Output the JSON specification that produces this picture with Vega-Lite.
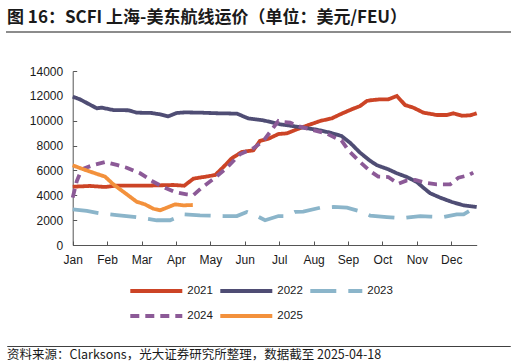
{
 "$schema": "https://vega.github.io/schema/vega-lite/v6.json",
 "padding": {"left": 6, "right": 6, "top": 8, "bottom": 2},
 "background": "white",
 "config": {"view": {"stroke": null}, "font": "Liberation Sans"},
 "spacing": 20,
 "vconcat": [
  {
   "width": 503, "height": 0.01,
   "view": {"stroke": "#8c8c8c", "strokeWidth": 2},
   "title": {"text": "图 16：SCFI 上海-美东航线运价（单位：美元/FEU）", "anchor": "start", "frame": "group", "font": "Noto Sans CJK SC", "fontSize": 17, "fontWeight": "bold", "color": "#1a1a1a", "offset": 5},
   "data": {"values": []},
   "mark": "point",
   "encoding": {}
  },
  {
   "spacing": 80,
   "vconcat": [
    {
     "width": 503, "height": 191,
     "data": {"values": [
      {"year":"2021","month":0,"value":4690},{"year":"2021","month":0.5,"value":4750},{"year":"2021","month":0.94,"value":4670},{"year":"2021","month":1.23,"value":4770},{"year":"2021","month":2.05,"value":4770},{"year":"2021","month":2.92,"value":4830},{"year":"2021","month":3.24,"value":4770},{"year":"2021","month":3.51,"value":5340},{"year":"2021","month":3.8,"value":5470},{"year":"2021","month":4.14,"value":5630},{"year":"2021","month":4.38,"value":6280},{"year":"2021","month":4.62,"value":6970},{"year":"2021","month":4.91,"value":7480},{"year":"2021","month":5.25,"value":7620},{"year":"2021","month":5.44,"value":8370},{"year":"2021","month":5.69,"value":8550},{"year":"2021","month":5.98,"value":8930},{"year":"2021","month":6.22,"value":8980},{"year":"2021","month":6.46,"value":9250},{"year":"2021","month":6.8,"value":9600},{"year":"2021","month":7.19,"value":9980},{"year":"2021","month":7.53,"value":10190},{"year":"2021","month":7.77,"value":10510},{"year":"2021","month":8.11,"value":10920},{"year":"2021","month":8.35,"value":11180},{"year":"2021","month":8.55,"value":11590},{"year":"2021","month":8.64,"value":11640},{"year":"2021","month":8.93,"value":11720},{"year":"2021","month":9.17,"value":11720},{"year":"2021","month":9.42,"value":11990},{"year":"2021","month":9.66,"value":11260},{"year":"2021","month":9.9,"value":11050},{"year":"2021","month":10.19,"value":10650},{"year":"2021","month":10.58,"value":10460},{"year":"2021","month":10.87,"value":10460},{"year":"2021","month":11.06,"value":10600},{"year":"2021","month":11.31,"value":10400},{"year":"2021","month":11.55,"value":10430},{"year":"2021","month":11.74,"value":10600},
      {"year":"2022","month":0,"value":11930},{"year":"2022","month":0.21,"value":11720},{"year":"2022","month":0.7,"value":11000},{"year":"2022","month":0.84,"value":11050},{"year":"2022","month":1.18,"value":10860},{"year":"2022","month":1.62,"value":10840},{"year":"2022","month":1.86,"value":10650},{"year":"2022","month":2.3,"value":10620},{"year":"2022","month":2.54,"value":10510},{"year":"2022","month":2.78,"value":10350},{"year":"2022","month":3.02,"value":10620},{"year":"2022","month":3.26,"value":10670},{"year":"2022","month":3.7,"value":10650},{"year":"2022","month":4.19,"value":10600},{"year":"2022","month":4.77,"value":10570},{"year":"2022","month":5.1,"value":10190},{"year":"2022","month":5.54,"value":10030},{"year":"2022","month":5.74,"value":9900},{"year":"2022","month":6.03,"value":9710},{"year":"2022","month":6.32,"value":9600},{"year":"2022","month":6.7,"value":9440},{"year":"2022","month":7.09,"value":9280},{"year":"2022","month":7.48,"value":9040},{"year":"2022","month":7.81,"value":8770},{"year":"2022","month":8.06,"value":8230},{"year":"2022","month":8.35,"value":7430},{"year":"2022","month":8.64,"value":6780},{"year":"2022","month":8.84,"value":6420},{"year":"2022","month":9.17,"value":6090},{"year":"2022","month":9.42,"value":5770},{"year":"2022","month":9.71,"value":5470},{"year":"2022","month":10.0,"value":5070},{"year":"2022","month":10.19,"value":4610},{"year":"2022","month":10.39,"value":4160},{"year":"2022","month":10.68,"value":3810},{"year":"2022","month":11.02,"value":3460},{"year":"2022","month":11.36,"value":3190},{"year":"2022","month":11.74,"value":3060},
      {"year":"2023","month":0,"value":2870},{"year":"2023","month":0.41,"value":2740},{"year":"2023","month":0.79,"value":2550},{"year":"2023","month":1.28,"value":2410},{"year":"2023","month":1.96,"value":2200},{"year":"2023","month":2.44,"value":1990},{"year":"2023","month":2.83,"value":1990},{"year":"2023","month":3.02,"value":2200},{"year":"2023","month":3.22,"value":2470},{"year":"2023","month":3.7,"value":2390},{"year":"2023","month":4.38,"value":2330},{"year":"2023","month":4.77,"value":2330},{"year":"2023","month":5.06,"value":2660},{"year":"2023","month":5.35,"value":2330},{"year":"2023","month":5.59,"value":1990},{"year":"2023","month":5.98,"value":2330},{"year":"2023","month":6.22,"value":2330},{"year":"2023","month":6.46,"value":2660},{"year":"2023","month":6.7,"value":2680},{"year":"2023","month":7.19,"value":3000},{"year":"2023","month":7.58,"value":3060},{"year":"2023","month":7.97,"value":3000},{"year":"2023","month":8.4,"value":2680},{"year":"2023","month":8.64,"value":2370},{"year":"2023","month":9.13,"value":2250},{"year":"2023","month":9.56,"value":2150},{"year":"2023","month":10.1,"value":2330},{"year":"2023","month":10.39,"value":2280},{"year":"2023","month":10.77,"value":2250},{"year":"2023","month":11.16,"value":2470},{"year":"2023","month":11.36,"value":2470},{"year":"2023","month":11.55,"value":2790},{"year":"2023","month":11.64,"value":3060},
      {"year":"2024","month":0,"value":3810},{"year":"2024","month":0.12,"value":5150},{"year":"2024","month":0.26,"value":6090},{"year":"2024","month":0.6,"value":6440},{"year":"2024","month":0.94,"value":6680},{"year":"2024","month":1.28,"value":6440},{"year":"2024","month":1.57,"value":6220},{"year":"2024","month":1.96,"value":5770},{"year":"2024","month":2.34,"value":5090},{"year":"2024","month":2.63,"value":4670},{"year":"2024","month":2.97,"value":4260},{"year":"2024","month":3.31,"value":4080},{"year":"2024","month":3.51,"value":4020},{"year":"2024","month":3.75,"value":4610},{"year":"2024","month":4.14,"value":5420},{"year":"2024","month":4.48,"value":6220},{"year":"2024","month":4.86,"value":7300},{"year":"2024","month":5.25,"value":7780},{"year":"2024","month":5.54,"value":8370},{"year":"2024","month":5.83,"value":9440},{"year":"2024","month":5.98,"value":9980},{"year":"2024","month":6.08,"value":9920},{"year":"2024","month":6.32,"value":9840},{"year":"2024","month":6.61,"value":9520},{"year":"2024","month":6.99,"value":9250},{"year":"2024","month":7.38,"value":8960},{"year":"2024","month":7.72,"value":8500},{"year":"2024","month":7.81,"value":8420},{"year":"2024","month":8.01,"value":7620},{"year":"2024","month":8.3,"value":6810},{"year":"2024","month":8.64,"value":5950},{"year":"2024","month":8.88,"value":5500},{"year":"2024","month":9.17,"value":5470},{"year":"2024","month":9.46,"value":4930},{"year":"2024","month":9.71,"value":5200},{"year":"2024","month":9.95,"value":5230},{"year":"2024","month":10.24,"value":5010},{"year":"2024","month":10.58,"value":4880},{"year":"2024","month":10.97,"value":4880},{"year":"2024","month":11.21,"value":5420},{"year":"2024","month":11.5,"value":5610},{"year":"2024","month":11.64,"value":5820},
      {"year":"2025","month":0,"value":6410},{"year":"2025","month":0.31,"value":6090},{"year":"2025","month":0.65,"value":5770},{"year":"2025","month":0.94,"value":5500},{"year":"2025","month":1.18,"value":4880},{"year":"2025","month":1.57,"value":4080},{"year":"2025","month":1.86,"value":3480},{"year":"2025","month":2.1,"value":3270},{"year":"2025","month":2.34,"value":2920},{"year":"2025","month":2.54,"value":2790},{"year":"2025","month":2.73,"value":3000},{"year":"2025","month":2.97,"value":3270},{"year":"2025","month":3.22,"value":3190},{"year":"2025","month":3.49,"value":3220}
     ]},
     "mark": {"type": "line", "strokeWidth": 3.8, "clip": false},
     "encoding": {
      "x": {"field": "month", "type": "quantitative",
       "scale": {"domain": [0, 11.74], "range": [65.7, 469.7], "nice": false, "zero": false},
       "axis": {"title": null, "grid": false, "values": [0,1,2,3,4,5,6,7,8,9,10,11],
        "labelExpr": "['Jan','Feb','Mar','Apr','May','Jun','Jul','Aug','Sep','Oct','Nov','Dec'][datum.value]",
        "tickSize": -4, "labelPadding": 13, "labelFlush": false, "labelFont": "Liberation Sans", "labelFontSize": 12, "labelColor": "#1a1a1a", "domainColor": "#555555", "tickColor": "#555555"}},
      "y": {"field": "value", "type": "quantitative",
       "scale": {"domain": [0, 14000], "range": [191, 17], "nice": false, "zero": true},
       "axis": {"title": null, "grid": false, "values": [0,2000,4000,6000,8000,10000,12000,14000], "format": "d",
        "offset": -65.7, "tickSize": -4, "labelPadding": 14, "labelFlush": false, "labelFont": "Liberation Sans", "labelFontSize": 12, "labelColor": "#1a1a1a", "domainColor": "#555555", "tickColor": "#555555"}},
      "color": {"field": "year", "type": "nominal",
       "scale": {"domain": ["2021","2022","2023","2024","2025"], "range": ["#cc4426","#4f4d74","#8bb5ca","#8c5a97","#f3913c"]},
       "legend": {"title": null, "orient": "none", "direction": "horizontal", "legendX": 121.3, "legendY": 252, "columns": 3, "symbolType": "stroke", "symbolSize": 2704, "symbolStrokeWidth": 4, "clipHeight": 14, "labelFont": "Liberation Sans", "labelFontSize": 11.5, "labelColor": "#1a1a1a", "labelOffset": 3, "columnPadding": 5, "rowPadding": 11, "padding": 0}},
      "strokeDash": {"field": "year", "type": "nominal",
       "scale": {"domain": ["2021","2022","2023","2024","2025"], "range": [[1,0],[1,0],[26,12],[9,6],[1,0]]},
       "legend": {"title": null, "orient": "none", "direction": "horizontal", "legendX": 121.3, "legendY": 252, "columns": 3, "symbolType": "stroke", "symbolSize": 2704, "symbolStrokeWidth": 4, "clipHeight": 14, "labelFont": "Liberation Sans", "labelFontSize": 11.5, "labelColor": "#1a1a1a", "labelOffset": 3, "columnPadding": 5, "rowPadding": 11, "padding": 0}}
     }
    },
    {
     "width": 503, "height": 0.01,
     "view": {"stroke": "#404040", "strokeWidth": 1},
     "title": {"text": "资料来源：Clarksons，光大证券研究所整理，数据截至 2025-04-18", "orient": "bottom", "anchor": "start", "frame": "group", "font": "Noto Sans CJK SC", "fontSize": 12.5, "fontWeight": "normal", "color": "#1a1a1a", "offset": 3},
     "data": {"values": []},
     "mark": "point",
     "encoding": {}
    }
   ]
  }
 ]
}
